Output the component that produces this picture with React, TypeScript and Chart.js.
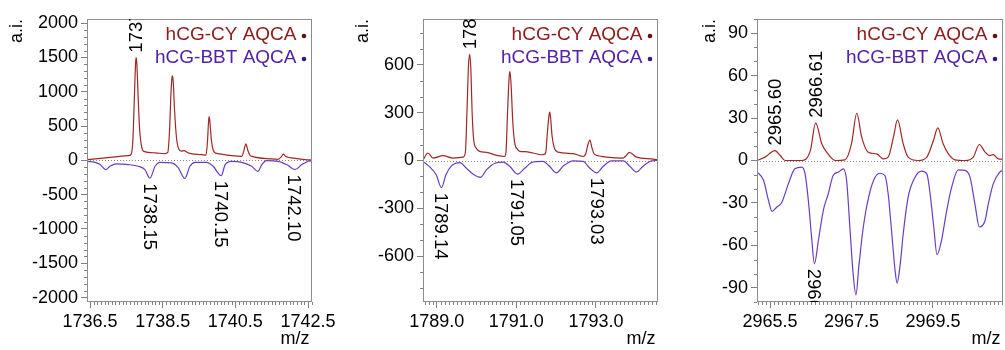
import React, { useEffect, useRef } from "react";
import { Chart, registerables } from "chart.js";

Chart.register(...registerables);

const FONT = "'Liberation Sans', Arial, Helvetica, sans-serif";

// ---------- Panel 1 data ----------
const p1CyMz = [1736.42, 1736.91, 1737.55, 1737.63, 1737.68, 1737.72, 1737.755, 1737.77, 1737.79, 1737.83, 1737.87, 1737.92, 1737.98, 1738.29, 1738.56, 1738.64, 1738.69, 1738.73, 1738.76, 1738.77, 1738.79, 1738.83, 1738.88, 1738.94, 1739.02, 1739.08, 1739.22, 1739.57, 1739.69, 1739.73, 1739.765, 1739.78, 1739.80, 1739.84, 1739.89, 1739.96, 1740.03, 1740.40, 1740.68, 1740.73, 1740.79, 1740.84, 1740.90, 1740.96, 1741.50, 1741.67, 1741.77, 1741.82, 1741.88, 1741.95, 1742.05, 1742.42, 1742.61];
const p1CyInt = [10, 35, 68, 85, 300, 900, 1420, 1497, 1400, 850, 420, 200, 130, 110, 97, 115, 450, 1000, 1220, 1232, 1150, 700, 330, 170, 135, 140, 105, 83, 75, 250, 580, 638, 560, 300, 150, 105, 97, 68, 58, 130, 242, 150, 75, 58, 20, 15, 55, 90, 60, 45, 35, 10, 5];
const p1BbtMz = [1736.42, 1736.64, 1736.78, 1736.93, 1737.05, 1737.23, 1737.55, 1737.83, 1738.01, 1738.15, 1738.29, 1738.43, 1738.75, 1738.93, 1739.11, 1739.25, 1739.39, 1739.71, 1739.89, 1740.11, 1740.22, 1740.40, 1740.68, 1740.95, 1741.12, 1741.23, 1741.36, 1741.68, 1741.91, 1742.14, 1742.33, 1742.51, 1742.61];
const p1BbtInt = [-14, -29, -62, -135, -87, -52, -62, -87, -135, -260, -87, -29, -38, -110, -265, -87, -29, -29, -87, -225, -62, -14, -29, -87, -160, -62, -4, -14, -62, -135, -62, -14, -8];
const p1XTicks = [1736.5, 1738.5, 1740.5, 1742.5];
const p1YTicks = [2000, 1500, 1000, 500, 0, -500, -1000, -1500, -2000];
const p1Labels = [
  { mz: 1737.77, int: 1497, text: "1737.77", up: true },
  { mz: 1738.15, int: -260, text: "1738.15", up: false },
  { mz: 1740.12, int: -225, text: "1740.15", up: false },
  { mz: 1742.13, int: -135, text: "1742.10", up: false },
];

// ---------- Panel 2 data ----------
const p2CyMz = [1788.66, 1788.78, 1788.91, 1789.16, 1789.41, 1789.66, 1789.72, 1789.76, 1789.80, 1789.83, 1789.86, 1789.89, 1789.93, 1790.00, 1790.08, 1790.25, 1790.54, 1790.70, 1790.74, 1790.78, 1790.82, 1790.84, 1790.87, 1790.91, 1790.96, 1791.03, 1791.09, 1791.21, 1791.42, 1791.63, 1791.70, 1791.74, 1791.78, 1791.82, 1791.84, 1791.86, 1791.90, 1791.96, 1792.05, 1792.43, 1792.68, 1792.75, 1792.80, 1792.85, 1792.90, 1792.96, 1793.10, 1793.27, 1793.68, 1793.76, 1793.84, 1794.02, 1794.44, 1794.56];
const p2CyInt = [5, 47, 15, 30, 15, 21, 50, 300, 600, 664, 560, 300, 130, 75, 57, 51, 30, 25, 50, 300, 520, 557, 470, 250, 110, 70, 57, 55, 47, 36, 38, 50, 170, 280, 302, 270, 150, 75, 52, 43, 25, 45, 100, 128, 80, 40, 28, 21, 15, 30, 51, 21, 9, 3];
const p2BbtMz = [1788.66, 1788.82, 1788.99, 1789.12, 1789.23, 1789.37, 1789.58, 1789.75, 1789.91, 1790.10, 1790.25, 1790.46, 1790.67, 1790.84, 1791.03, 1791.21, 1791.38, 1791.67, 1791.84, 1792.01, 1792.18, 1792.43, 1792.68, 1792.85, 1793.02, 1793.18, 1793.39, 1793.69, 1793.86, 1794.02, 1794.19, 1794.40, 1794.56];
const p2BbtInt = [-7, -38, -91, -170, -91, -34, -13, -49, -85, -106, -59, -17, -10, -38, -85, -49, -13, -6, -38, -77, -34, -2, -6, -49, -77, -38, -2, -2, -38, -72, -34, -2, 0];
const p2XTicks = [1789.0, 1791.0, 1793.0];
const p2YTicks = [600, 300, 0, -300, -600];
const p2Labels = [
  { mz: 1789.83, int: 664, text: "1789.83", up: true },
  { mz: 1789.12, int: -170, text: "1789.14", up: false },
  { mz: 1791.03, int: -85, text: "1791.05", up: false },
  { mz: 1793.02, int: -77, text: "1793.03", up: false },
];

// ---------- Panel 3 data ----------
const p3CyMz = [2965.18, 2965.38, 2965.62, 2965.75, 2965.87, 2966.28, 2966.49, 2966.62, 2966.77, 2966.89, 2967.10, 2967.34, 2967.50, 2967.63, 2967.75, 2967.91, 2968.12, 2968.28, 2968.40, 2968.53, 2968.63, 2968.77, 2968.89, 2969.14, 2969.35, 2969.51, 2969.62, 2969.75, 2969.88, 2970.04, 2970.29, 2970.49, 2970.64, 2970.78, 2970.90, 2970.98, 2971.10, 2971.22];
const p3CyInt = [0, 2.4, 7, 3.5, 0, 0, 7, 26.6, 11.8, 5.9, 0, 0.5, 11.8, 33.4, 16.5, 5.9, 4.7, 1.2, 2.4, 16.5, 28.7, 11.8, 2.4, 0, 2.4, 14, 23, 11.8, 4.7, 0.5, 0, 2.4, 11.3, 5.9, 3.5, 4.2, 1.2, 1];
const p3BbtMz = [2965.18, 2965.34, 2965.46, 2965.55, 2965.66, 2965.79, 2965.95, 2966.11, 2966.28, 2966.36, 2966.44, 2966.52, 2966.59, 2966.69, 2966.81, 2966.93, 2967.05, 2967.18, 2967.30, 2967.38, 2967.46, 2967.54, 2967.61, 2967.68, 2967.79, 2967.95, 2968.08, 2968.20, 2968.32, 2968.40, 2968.49, 2968.57, 2968.62, 2968.69, 2968.77, 2968.89, 2969.06, 2969.22, 2969.35, 2969.43, 2969.52, 2969.60, 2969.71, 2969.84, 2969.96, 2970.12, 2970.29, 2970.41, 2970.53, 2970.64, 2970.78, 2970.86, 2970.98, 2971.14, 2971.22];
const p3BbtInt = [-8, -14, -28, -36, -33, -29.5, -16.5, -5.9, -4.7, -9.4, -28, -54, -73, -56, -35, -23.5, -10.6, -8.2, -5.9, -14, -47, -80, -95, -75, -47, -22.4, -11.8, -9, -10.6, -23.5, -51.8, -77.6, -86.6, -75, -51.8, -26, -11.8, -7.5, -9.4, -23.5, -47, -66.6, -56.5, -35, -18.8, -6.6, -7, -11.8, -30.6, -47, -42.4, -30.6, -16.5, -8.2, -7];
const p3XTicks = [2965.5, 2967.5, 2969.5];
const p3YTicks = [90, 60, 30, 0, -30, -60, -90];
const p3Labels = [
  { mz: 2965.62, int: 7, text: "2965.60", up: true },
  { mz: 2966.62, int: 26.6, text: "2966.61", up: true },
  { mz: 2966.59, int: -73, text: "2966.59", up: false },
];

const seriesNames = ["hCG-CY AQCA", "hCG-BBT AQCA"];
const axisTitleY = "a.i.";
const axisTitleX = "m/z";

const CY_LINE = "#a02828";
const BBT_LINE = "#6a3cc0";
const CY_TEXT = "#8e1a1a";
const BBT_TEXT = "#5422a8";
const CY_DOT = "#6e0d0d";
const BBT_DOT = "#3b1585";

type Lab = { mz: number; int: number; text: string; up: boolean };
type Panel = {
  left: number; width: number; yWidth: number; padRight: number;
  xMin: number; xMax: number; yMin: number; yMax: number;
  yMinor: number; xMinor: number; aiX: number;
  xTicks: number[]; yTicks: number[]; labels: Lab[];
  cyMz: number[]; cyInt: number[]; bbtMz: number[]; bbtInt: number[];
};

const panels: Panel[] = [
  { left: 0, width: 340, yWidth: 87, padRight: 28, xMin: 1736.417, xMax: 1742.61, yMin: -2065, yMax: 2060, yMinor: 100, xMinor: 0.1, aiX: 17,
    xTicks: p1XTicks, yTicks: p1YTicks, labels: p1Labels, cyMz: p1CyMz, cyInt: p1CyInt, bbtMz: p1BbtMz, bbtInt: p1BbtInt },
  { left: 340, width: 335, yWidth: 83, padRight: 17, xMin: 1788.656, xMax: 1794.56, yMin: -885, yMax: 885, yMinor: 100, xMinor: 0.1, aiX: 23,
    xTicks: p2XTicks, yTicks: p2YTicks, labels: p2Labels, cyMz: p2CyMz, cyInt: p2CyInt, bbtMz: p2BbtMz, bbtInt: p2BbtInt },
  { left: 675, width: 330, yWidth: 82, padRight: 2, xMin: 2965.18, xMax: 2971.22, yMin: -100, yMax: 100, yMinor: 10, xMinor: 0.1, aiX: 35,
    xTicks: p3XTicks, yTicks: p3YTicks, labels: p3Labels, cyMz: p3CyMz, cyInt: p3CyInt, bbtMz: p3BbtMz, bbtInt: p3BbtInt },
];

function makeDecor(p: Panel) {
  return {
    id: "decor",
    beforeDatasetsDraw(chart: any) {
      const { ctx, chartArea: a } = chart;
      const y = chart.scales.y;
      const y0 = Math.round(y.getPixelForValue(0)) + 0.5;
      ctx.save();
      ctx.strokeStyle = "#8a8a8a";
      ctx.lineWidth = 1;
      ctx.setLineDash([1, 2]);
      ctx.beginPath();
      ctx.moveTo(a.left, y0);
      ctx.lineTo(a.right, y0);
      ctx.stroke();
      ctx.restore();
    },
    afterDraw(chart: any) {
      const { ctx, chartArea: a } = chart;
      const xs = chart.scales.x;
      const ys = chart.scales.y;
      ctx.save();
      // minor ticks
      ctx.strokeStyle = "#808080";
      ctx.lineWidth = 1;
      ctx.beginPath();
      const yk0 = Math.ceil(p.yMin / p.yMinor);
      const yk1 = Math.floor(p.yMax / p.yMinor);
      for (let k = yk0; k <= yk1; k++) {
        const v = k * p.yMinor;
        if (p.yTicks.some((t) => Math.abs(t - v) < 1e-6)) continue;
        const py = Math.round(ys.getPixelForValue(v)) + 0.5;
        ctx.moveTo(a.left - 3, py);
        ctx.lineTo(a.left, py);
      }
      const xk0 = Math.ceil(p.xMin / p.xMinor - 1e-6);
      const xk1 = Math.floor(p.xMax / p.xMinor + 1e-6);
      for (let k = xk0; k <= xk1; k++) {
        const v = k * p.xMinor;
        if (p.xTicks.some((t) => Math.abs(t - v) < 1e-6)) continue;
        const px = Math.round(xs.getPixelForValue(v)) + 0.5;
        ctx.moveTo(px, a.bottom);
        ctx.lineTo(px, a.bottom + 3);
      }
      ctx.stroke();
      // frame
      ctx.strokeStyle = "#8c8c8c";
      ctx.strokeRect(Math.round(a.left) + 0.5, Math.round(a.top) + 0.5, Math.round(a.right - a.left) - 1, Math.round(a.bottom - a.top) - 1);
      ctx.restore();

      // peak labels (clipped)
      ctx.save();
      ctx.beginPath();
      ctx.rect(a.left, a.top, a.right - a.left, a.bottom - a.top);
      ctx.clip();
      ctx.font = `18.5px ${FONT}`;
      ctx.fillStyle = "#000";
      ctx.textAlign = "left";
      ctx.textBaseline = "middle";
      for (const l of p.labels) {
        const px = xs.getPixelForValue(l.mz);
        const py = ys.getPixelForValue(l.int);
        ctx.save();
        if (l.up) {
          ctx.translate(px + 1, py - 5);
          ctx.rotate(-Math.PI / 2);
        } else {
          ctx.translate(px - 1, py + 5);
          ctx.rotate(Math.PI / 2);
        }
        ctx.fillText(l.text, 0, 0);
        ctx.restore();
      }
      ctx.restore();

      // legend
      ctx.save();
      ctx.font = `19px ${FONT}`;
      ctx.textAlign = "right";
      ctx.textBaseline = "middle";
      const tr = a.right - 15.5;
      const cols = [CY_TEXT, BBT_TEXT];
      const dots = [CY_DOT, BBT_DOT];
      seriesNames.forEach((name, i) => {
        const yy = a.top + 16 + i * 23;
        ctx.fillStyle = cols[i];
        ctx.fillText(name, tr, yy);
        ctx.fillStyle = dots[i];
        ctx.beginPath();
        ctx.arc(a.right - 8, yy + 1, 2.3, 0, Math.PI * 2);
        ctx.fill();
      });
      ctx.restore();

      // axis titles
      ctx.save();
      ctx.font = `18px ${FONT}`;
      ctx.fillStyle = "#000";
      ctx.textAlign = "center";
      ctx.textBaseline = "middle";
      ctx.save();
      ctx.translate(p.aiX, 31);
      ctx.rotate(-Math.PI / 2);
      ctx.fillText(axisTitleY, 0, 0);
      ctx.restore();
      ctx.fillText(axisTitleX, a.right - 17, 339);
      ctx.restore();
    },
  };
}

function PanelChart({ p }: { p: Panel }) {
  const ref = useRef<HTMLCanvasElement | null>(null);
  useEffect(() => {
    if (!ref.current) return;
    const chart = new Chart(ref.current, {
      type: "line",
      data: {
        datasets: [
          {
            label: seriesNames[0],
            data: p.cyMz.map((m, i) => ({ x: m, y: p.cyInt[i] })),
            borderColor: CY_LINE,
            borderWidth: 1.2,
            pointRadius: 0,
            cubicInterpolationMode: "monotone",
            fill: false,
          },
          {
            label: seriesNames[1],
            data: p.bbtMz.map((m, i) => ({ x: m, y: p.bbtInt[i] })),
            borderColor: BBT_LINE,
            borderWidth: 1.2,
            pointRadius: 0,
            cubicInterpolationMode: "monotone",
            fill: false,
          },
        ],
      },
      options: {
        responsive: false,
        animation: false,
        events: [],
        layout: { padding: { left: 0, top: 19, right: p.padRight, bottom: 0 } },
        plugins: { legend: { display: false }, tooltip: { enabled: false }, title: { display: false } },
        scales: {
          x: {
            type: "linear",
            min: p.xMin,
            max: p.xMax,
            afterBuildTicks: (s: any) => {
              s.ticks = p.xTicks.map((v) => ({ value: v }));
            },
            afterFit: (s: any) => {
              s.height = 48;
            },
            ticks: {
              autoSkip: false,
              maxRotation: 0,
              minRotation: 0,
              padding: 3,
              color: "#000",
              font: { family: FONT, size: 18 },
              callback: (v: any) => Number(v).toFixed(1),
            },
            grid: { display: true, drawOnChartArea: false, drawTicks: true, tickLength: 6, color: "#808080" },
            border: { display: false },
          },
          y: {
            type: "linear",
            min: p.yMin,
            max: p.yMax,
            afterBuildTicks: (s: any) => {
              s.ticks = p.yTicks.map((v) => ({ value: v }));
            },
            afterFit: (s: any) => {
              s.width = p.yWidth;
            },
            ticks: {
              autoSkip: false,
              padding: 3,
              color: "#000",
              font: { family: FONT, size: 18 },
              callback: (v: any) => String(v),
            },
            grid: { display: true, drawOnChartArea: false, drawTicks: true, tickLength: 6, color: "#808080" },
            border: { display: false },
          },
        },
      },
      plugins: [makeDecor(p)],
    } as any);
    return () => chart.destroy();
  }, [p]);
  return (
    <canvas
      ref={ref}
      width={p.width}
      height={350}
      style={{ position: "absolute", left: p.left, top: 0, width: p.width, height: 350 }}
    />
  );
}

export default function App() {
  return (
    <div style={{ position: "absolute", left: 0, top: 0, width: 1005, height: 350, background: "#fff" }}>
      {panels.map((p, i) => (
        <PanelChart key={i} p={p} />
      ))}
    </div>
  );
}
